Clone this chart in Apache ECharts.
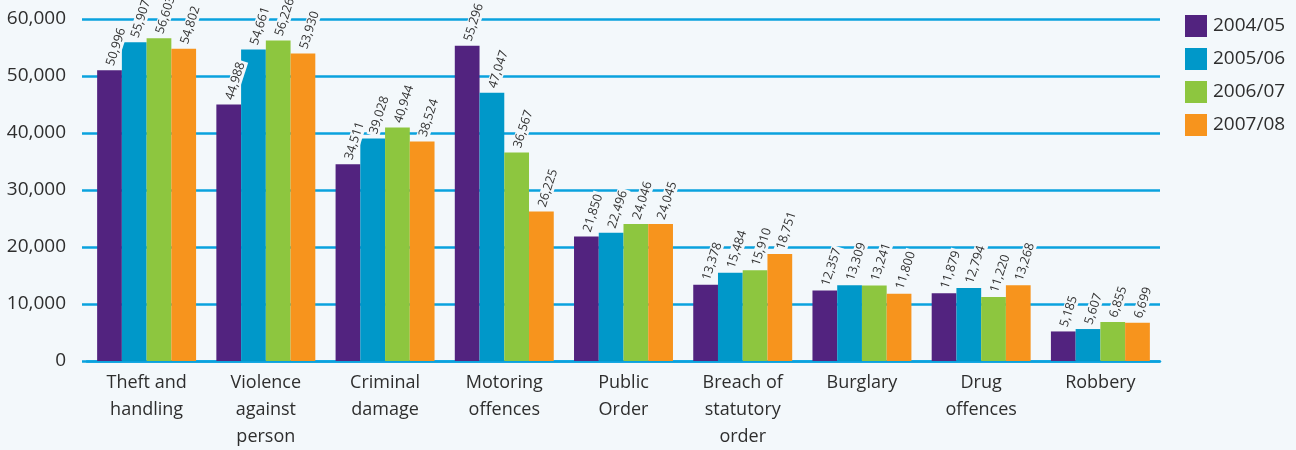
<!DOCTYPE html>
<html>
<head>
<meta charset="utf-8">
<script src="https://cdn.jsdelivr.net/npm/echarts@6/dist/echarts.min.js"></script>
<style>
  html, body { margin: 0; padding: 0; background: #f3f8fb; }
  #chart { width: 1296px; height: 450px; }
</style>
</head>
<body>
<div id="chart"></div>
<script>
const categories = [
  'Theft and\nhandling', 'Violence\nagainst\nperson', 'Criminal\ndamage',
  'Motoring\noffences', 'Public\nOrder', 'Breach of\nstatutory\norder',
  'Burglary', 'Drug\noffences', 'Robbery'
]
const years = ['2004/05', '2005/06', '2006/07', '2007/08']
const y2004 = [50996, 44988, 34511, 55296, 21850, 13378, 12357, 11879, 5185]
const y2005 = [55907, 54661, 39028, 47047, 22496, 15484, 13309, 12794, 5607]
const y2006 = [56603, 56226, 40944, 36567, 24046, 15910, 13241, 11220, 6855]
const y2007 = [54802, 53930, 38524, 26225, 24045, 18751, 11800, 13268, 6699]
const colors = ['#52237f', '#0098c9', '#8dc63f', '#f7941d']

const BG = '#f3f8fb'
const LINE = '#0aa2de'
const TEXT = '#2e2e2e'
const FONT = '"Open Sans", "Noto Sans", sans-serif'

const series = [y2004, y2005, y2006, y2007].map((data, i) => ({
  name: years[i],
  type: 'bar',
  data,
  barGap: 0,
  barCategoryGap: '17%',
  itemStyle: { color: colors[i] },
  label: {
    show: true,
    position: 'top',
    distance: 3,
    rotate: 72,
    align: 'left',
    verticalAlign: 'middle',
    color: '#333',
    fontFamily: FONT,
    fontSize: 12.5,
    backgroundColor: BG,
    padding: [0, 2],
    formatter: p => p.value.toLocaleString('en-US'),
  },
}))

const chart = echarts.init(document.getElementById('chart'), null, { renderer: 'canvas' })
chart.setOption({
  backgroundColor: BG,
  animation: false,
  textStyle: { fontFamily: FONT },
  grid: { top: 19, bottom: 86, left: 87, right: 136, containLabel: false },
  legend: {
    orient: 'vertical',
    left: 1185,
    top: 15,
    padding: 0,
    itemWidth: 22,
    itemHeight: 22,
    itemGap: 11,
    icon: 'rect',
    data: years,
    textStyle: { color: TEXT, fontSize: 19, fontFamily: FONT, padding: [0, 0, 0, 1] },
  },
  xAxis: {
    type: 'category',
    data: categories,
    axisLine: { show: true, lineStyle: { color: LINE, width: 2.5 } },
    axisTick: { show: false },
    axisLabel: {
      interval: 0,
      margin: 8,
      color: TEXT,
      fontSize: 18,
      lineHeight: 27,
      fontFamily: FONT,
    },
    z: 1,
  },
  yAxis: {
    type: 'value',
    min: 0,
    max: 60000,
    interval: 10000,
    axisLine: { show: false },
    axisTick: { show: true, length: 5, lineStyle: { color: LINE, width: 2.5 } },
    axisLabel: {
      margin: 21,
      color: TEXT,
      fontSize: 19,
      fontFamily: FONT,
      formatter: v => v.toLocaleString('en-US'),
    },
    splitLine: { lineStyle: { color: LINE, width: 2.5 } },
  },
  series,
})
</script>
</body>
</html>
